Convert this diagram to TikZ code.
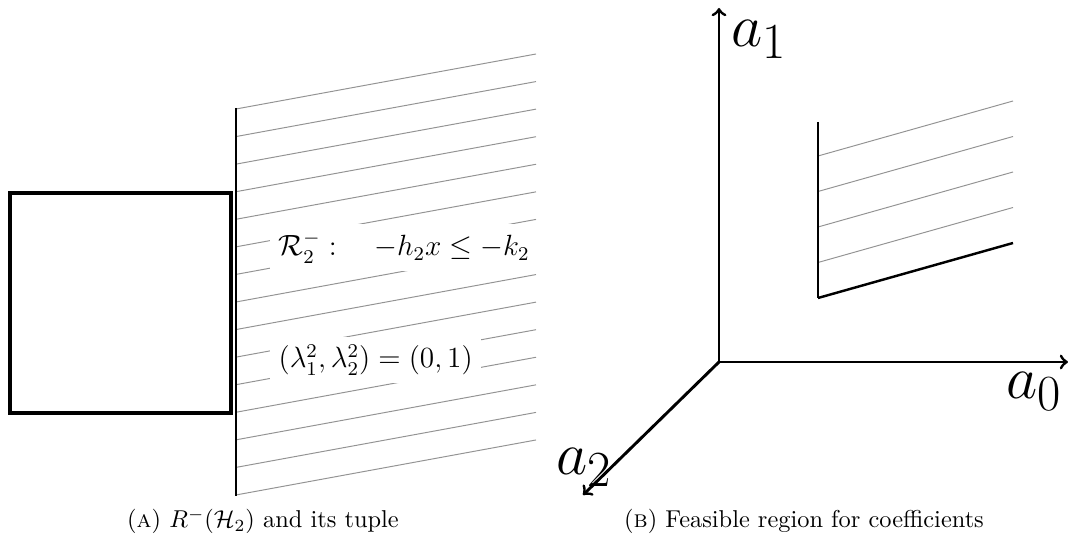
\documentclass[tikz,border=0pt]{standalone}
\usepackage{amsmath,amssymb}
\begin{document}
\begin{tikzpicture}[x=0.41pt,y=-0.41pt,
  hatch/.style={gray!85, line width=0.4pt},
  boxedge/.style={line width=1.5pt},
  region/.style={line width=0.8pt},
  axis/.style={line width=1.2pt,->},
  lab/.style={fill=white, anchor=west, font=\fontsize{12}{14}\selectfont},
  axlab/.style={anchor=base west, inner sep=0pt, font=\Huge},
  captext/.style={anchor=base, inner sep=0pt, font=\normalsize}]
\useasboundingbox (0,0) rectangle (1068,541);
% ---- left panel ----
\draw[boxedge] (10,193) rectangle (231,413);
\foreach \i in {0,...,14} {
  \draw[hatch] (236,109+27.57*\i) -- (536,54+27.57*\i);
}
\draw[region] (236,108) -- (236,496);
\node[lab] (r) at (270,247.5) {$\mathcal{R}_2^- :\quad -h_2x \leq -k_2$};
\node[lab] (l) at (270,360) {$(\lambda_1^2,\lambda_2^2) = (0,1)$};
\node[captext] (ca) at (263,528) {(\textsc{a}) $R^-(\mathcal{H}_2)$ and its tuple};
% ---- right panel ----
\coordinate (O) at (719,362);
\coordinate (A1) at (719,8);
\coordinate (A0) at (1068,362);
\coordinate (A2) at (583,495);
\coordinate (P) at (818,122);
\coordinate (Q) at (818,298);
\coordinate (S) at (1013,243);
\foreach \i in {0,...,3} {
  \draw[hatch] (818,156+35.5*\i) -- (1013,101+35.5*\i);
}
\draw[region] (P) -- (Q);
\draw[line width=1pt] (Q) -- (S);
\draw[axis] (O) -- (A1);
\draw[axis] (O) -- (A0);
\draw[axis] (O) -- (A2);
\node[axlab] (la1) at (731,47) {$a_1$};
\node[axlab] (la0) at (1006,399) {$a_0$};
\node[axlab] (la2) at (556,475) {$a_2$};
\node[captext] (cb) at (804,528) {(\textsc{b}) Feasible region for coefficients};
\end{tikzpicture}
\end{document}
